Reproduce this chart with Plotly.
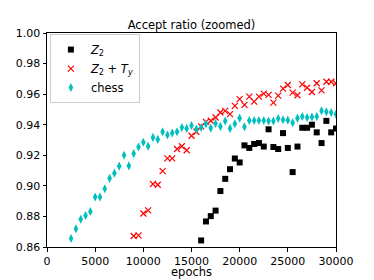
import plotly.graph_objects as go

# ---- data ----
z2_epochs = [16000, 16500, 17000, 17500, 18000, 18500, 19000, 19500, 20000, 20500,
             21000, 21500, 22000, 22500, 23000, 23500, 24000, 24500, 25000, 25500,
             26000, 26500, 27000, 27500, 28000, 28500, 29000, 29500, 30000]
z2_vals = [0.8643, 0.8767, 0.8802, 0.8838, 0.8966, 0.9046, 0.9109, 0.9179, 0.9153, 0.9265,
           0.9248, 0.9274, 0.9280, 0.9257, 0.9370, 0.9254, 0.9241, 0.9345, 0.9248, 0.9090,
           0.9257, 0.9380, 0.9380, 0.9400, 0.9350, 0.9280, 0.9425, 0.9350, 0.9375]

z2ty_epochs = [9000, 9500, 10000, 10500, 11000, 11500, 12000, 12500, 13000, 13500,
               14000, 14500, 15000, 15500, 16000, 16500, 17000, 17500, 18000, 18500,
               19000, 19500, 20000, 20500, 21000, 21500, 22000, 22500, 23000, 23500,
               24000, 24500, 25000, 25500, 26000, 26500, 27000, 27500, 28000, 28500,
               29000, 29500, 30000]
z2ty_vals = [0.8672, 0.8676, 0.8819, 0.8840, 0.9012, 0.9007, 0.9096, 0.9180, 0.9180, 0.9241,
             0.9259, 0.9233, 0.9328, 0.9354, 0.9389, 0.9419, 0.9426, 0.9447, 0.9480, 0.9491,
             0.9469, 0.9523, 0.9567, 0.9530, 0.9584, 0.9551, 0.9584, 0.9603, 0.9595, 0.9545,
             0.9590, 0.9636, 0.9660, 0.9610, 0.9593, 0.9664, 0.9642, 0.9614, 0.9671, 0.9625,
             0.9681, 0.9681, 0.9671]

chess_epochs = [2500, 3000, 3500, 4000, 4500, 5000, 5500, 6000, 6500, 7000,
                7500, 8000, 8500, 9000, 9500, 10000, 10500, 11000, 11500, 12000,
                12500, 13000, 13500, 14000, 14500, 15000, 15500, 16000, 16500, 17000,
                17500, 18000, 18500, 19000, 19500, 20000, 20500, 21000, 21500, 22000,
                22500, 23000, 23500, 24000, 24500, 25000, 25500, 26000, 26500, 27000,
                27500, 28000, 28500, 29000, 29500, 30000]
chess_vals = [0.8656, 0.8719, 0.8782, 0.8806, 0.8832, 0.8927, 0.8927, 0.8981, 0.9049, 0.9083,
              0.9129, 0.9200, 0.9131, 0.9211, 0.9254, 0.9285, 0.9259, 0.9317, 0.9304, 0.9354,
              0.9333, 0.9346, 0.9354, 0.9382, 0.9376, 0.9395, 0.9371, 0.9382, 0.9406, 0.9378,
              0.9408, 0.9389, 0.9424, 0.9376, 0.9406, 0.9443, 0.9387, 0.9428, 0.9428, 0.9428,
              0.9428, 0.9424, 0.9424, 0.9441, 0.9432, 0.9430, 0.9413, 0.9443, 0.9454, 0.9447,
              0.9450, 0.9454, 0.9491, 0.9484, 0.9480, 0.9469]

x_ticks = [0, 5000, 10000, 15000, 20000, 25000, 30000]
x_ticklabels = ["0", "5000", "10000", "15000", "20000", "25000", "30000"]
y_ticks = [0.86, 0.88, 0.90, 0.92, 0.94, 0.96, 0.98, 1.00]
y_ticklabels = ["0.86", "0.88", "0.90", "0.92", "0.94", "0.96", "0.98", "1.00"]

FONT = "DejaVu Sans"
FS = 11.5
TICK_FS = 11
W, H = 374, 280

fig = go.Figure()
fig.add_trace(go.Scatter(
    x=z2_epochs, y=z2_vals, mode="markers", name="<i>Z</i><sub>2</sub>",
    marker=dict(symbol="square", size=6, color="black")))
fig.add_trace(go.Scatter(
    x=z2ty_epochs, y=z2ty_vals, mode="markers",
    name="<i>Z</i><sub>2</sub> + <i>T</i><sub><i>y</i></sub>",
    marker=dict(symbol="x-thin", size=6, color="#ff0000",
                line=dict(color="#ff0000", width=1.2))))
fig.add_trace(go.Scatter(
    x=chess_epochs, y=chess_vals, mode="markers", name="chess",
    marker=dict(symbol="diamond-tall", size=6.5, color="#00bfbf")))

axis_common = dict(
    showline=True, linecolor="black", linewidth=1, mirror=True,
    ticks="outside", ticklen=3.5, tickcolor="black", tickwidth=1,
    showgrid=False, zeroline=False,
    tickfont=dict(family=FONT, size=TICK_FS, color="black"),
)

fig.update_layout(
    width=W, height=H,
    margin=dict(l=47, r=38, t=33, b=31),
    plot_bgcolor="white", paper_bgcolor="white",
    font=dict(family=FONT, size=FS, color="black"),
    title=dict(text="Accept ratio (zoomed)", x=0.5, xref="paper", xanchor="center",
               y=1 - 25 / H, yref="container", yanchor="middle",
               font=dict(family=FONT, size=FS, color="black")),
    xaxis=dict(range=[0, 30000], tickvals=x_ticks, ticktext=x_ticklabels, **axis_common),
    yaxis=dict(range=[0.86, 1.00], tickvals=y_ticks, ticktext=y_ticklabels, **axis_common),
    legend=dict(x=0.01, y=0.995, xanchor="left", yanchor="top",
                bordercolor="#cccccc", borderwidth=1, bgcolor="rgba(255,255,255,0.8)",
                font=dict(family=FONT, size=FS, color="black"), itemwidth=30,
                tracegroupgap=0),
    annotations=[dict(text="epochs", x=0.5, y=-(274 - 249) / 216, xref="paper", yref="paper",
                      xanchor="center", yanchor="middle", showarrow=False,
                      font=dict(family=FONT, size=FS, color="black"))],
    showlegend=True,
)

# remove the browser's default 8px page margin so the figure fills the window exactly
fig.write_html("out.html",
               config={"displayModeBar": False},
               post_script="document.body.style.margin='0px';document.body.style.overflow='hidden';")
